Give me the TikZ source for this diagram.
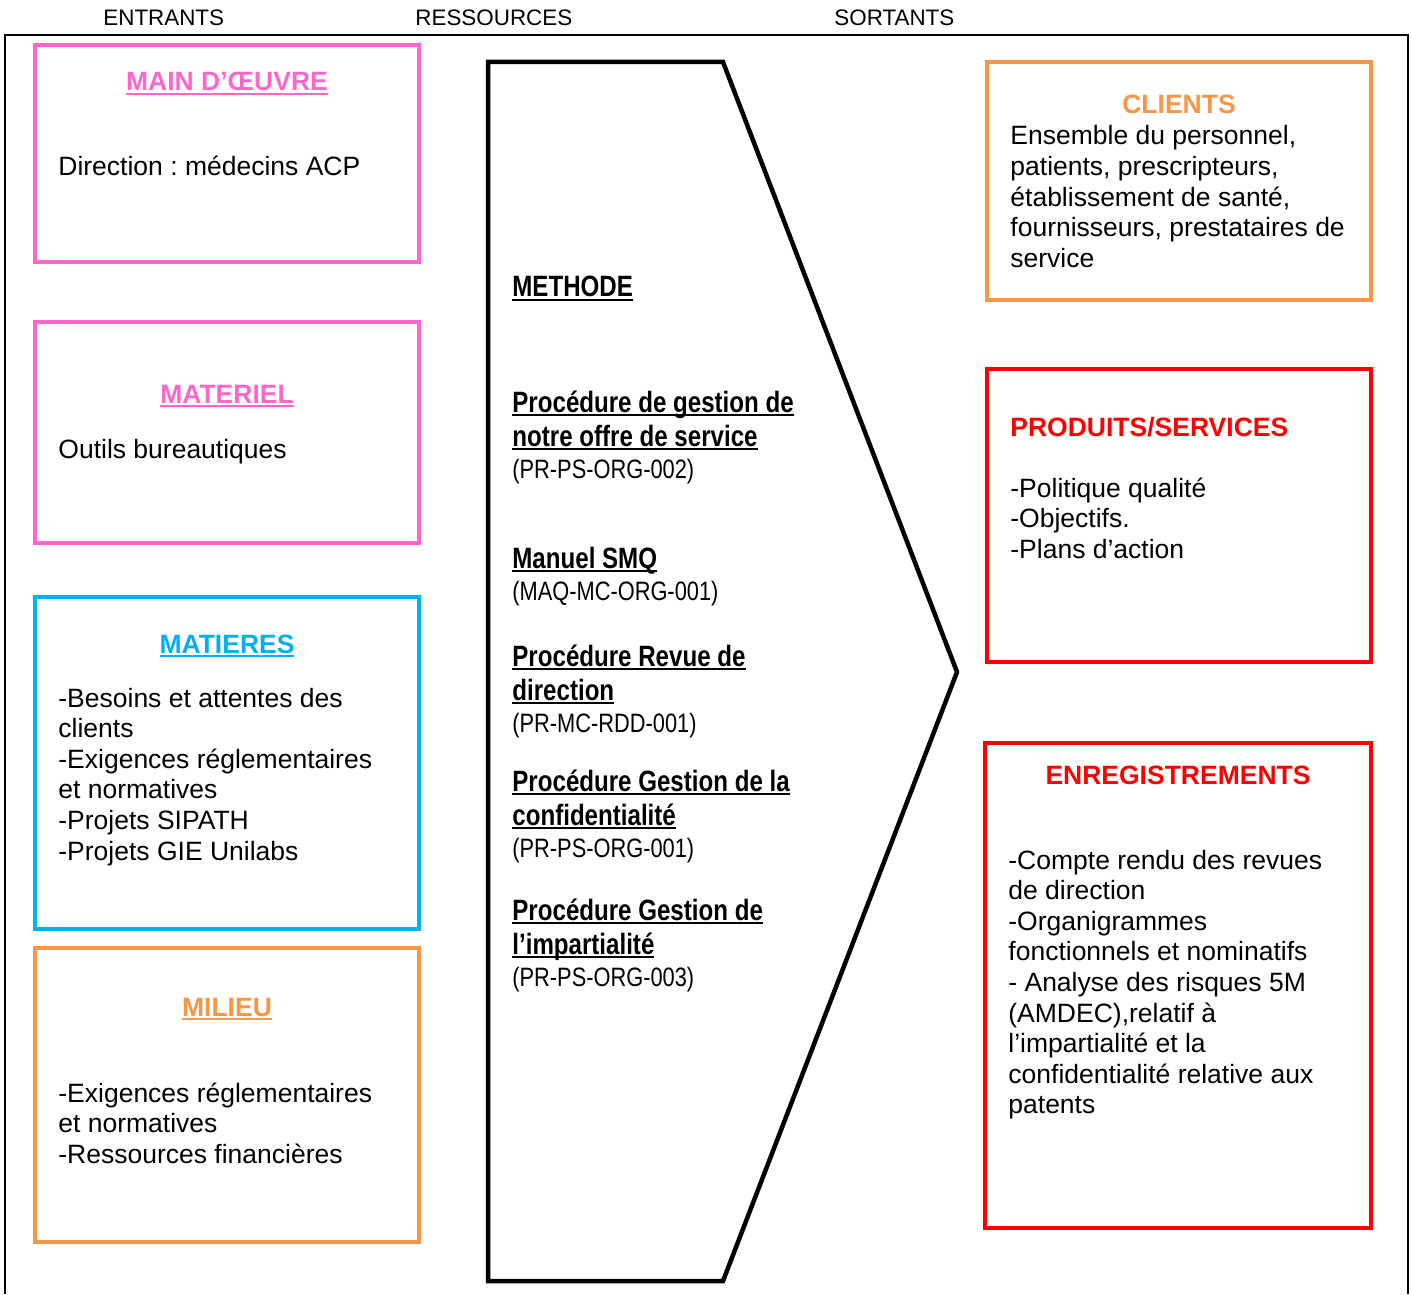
\documentclass[tikz,border=0pt]{standalone}
\usepackage{fontspec}
\setmainfont{Liberation Sans}
\newfontfamily\narrowfont[FakeStretch=0.82]{Liberation Sans}
\frenchspacing
\definecolor{pinkc}{HTML}{FF66CC}
\definecolor{cyanc}{HTML}{00B0F0}
\definecolor{orangec}{HTML}{F79646}
\definecolor{redc}{HTML}{FF0000}
\newsavebox\ulbox
\newcommand\ulx[1]{\leavevmode\sbox\ulbox{#1}\rlap{\rule[-2pt]{\wd\ulbox}{1pt}}\usebox\ulbox}
\newcommand\lines[1]{\parbox[t]{300pt}{\raggedright #1}}
\newcommand\codeln{\mdseries\fontsize{13.3}{17}\selectfont}
\tikzset{
  box/.style={draw=#1, line width=2pt},
  body/.style={anchor=base west, inner sep=0pt, font=\fontsize{13.25}{15.3}\selectfont},
  ttl/.style={anchor=base, inner sep=0pt, font=\fontsize{13.25}{15.3}\selectfont\bfseries, text=#1},
  ttlw/.style={anchor=base west, inner sep=0pt, font=\fontsize{13.25}{15.3}\selectfont\bfseries, text=#1},
  hdr/.style={anchor=base west, inner sep=0pt, font=\fontsize{11.2}{13}\selectfont},
  mid/.style={anchor=base west, inner sep=0pt, font=\narrowfont\fontsize{14.7}{17}\selectfont},
}
\begin{document}
\begin{tikzpicture}[x=0.5pt,y=-0.5pt]
\useasboundingbox[fill=white] (0,0) rectangle (1411,1294);
% outer frame
\draw[line width=0.75pt] (5,1294) -- (5,35) -- (1408,35) -- (1408,1294);
% headers
\node[hdr] (h1) at (103,26) {ENTRANTS};
\node[hdr] (h2) at (415,26) {RESSOURCES};
\node[hdr] (h3) at (834,26) {SORTANTS};
% left boxes
\draw[box=pinkc] (35,45) rectangle (419,262);
\draw[box=pinkc] (35,322) rectangle (419,543);
\draw[box=cyanc] (35,597) rectangle (419,929);
\draw[box=orangec] (35,948) rectangle (419,1242);
% right boxes
\draw[box=orangec] (987,62) rectangle (1371,300);
\draw[box=redc] (987,369) rectangle (1371,662);
\draw[box=redc] (985,743) rectangle (1371,1228);
% central arrow
\draw[line width=2.25pt, line join=miter] (488,62) -- (723,62) -- (957,672) -- (723,1281) -- (488,1281) -- cycle;
% left texts
\node[ttl=pinkc] (t1) at (227,91) {\ulx{MAIN D’ŒUVRE}};
\node[body] (b1) at (58,176) {Direction : médecins ACP};
\node[ttl=pinkc] (t2) at (227,403) {\ulx{MATERIEL}};
\node[body] (b2) at (58,458) {Outils bureautiques};
\node[ttl=cyanc] (t3) at (227,653) {\ulx{MATIERES}};
\node[body] (b3) at (58,707) {\lines{-Besoins et attentes des\\clients\\-Exigences réglementaires\\et normatives\\-Projets SIPATH\\-Projets GIE Unilabs}};
\node[ttl=orangec] (t4) at (227,1016) {\ulx{MILIEU}};
\node[body] (b4) at (58,1102) {\lines{-Exigences réglementaires\\et normatives\\-Ressources financières}};
% right texts
\node[ttl=orangec] (t5) at (1179,114) {CLIENTS};
\node[body] (b5) at (1010,145) {\lines{Ensemble du personnel,\\patients, prescripteurs,\\établissement de santé,\\fournisseurs, prestataires de\\service}};
\node[ttlw=redc] (t6) at (1010,436) {PRODUITS/SERVICES};
\node[body] (b6) at (1010,497) {\lines{-Politique qualité\\-Objectifs.\\-Plans d’action}};
\node[ttl=redc] (t7) at (1178,784) {ENREGISTREMENTS};
\node[body] (b7) at (1008,869) {\lines{-Compte rendu des revues\\de direction\\-Organigrammes\\fonctionnels et nominatifs\\- Analyse des risques 5M\\(AMDEC),relatif à\\l’impartialité et la\\confidentialité relative aux\\patents}};
% middle texts
\node[mid] (m0) at (512,297) {\bfseries\ulx{METHODE}};
\node[mid] (m1) at (512,412) {\lines{\bfseries\ulx{Procédure de gestion de}\\\ulx{notre offre de service}\\[-1pt]\codeln (PR-PS-ORG-002)}};
\node[mid] (m2) at (512,568) {\lines{\bfseries\ulx{Manuel SMQ}\\[-1pt]\codeln (MAQ-MC-ORG-001)}};
\node[mid] (m3) at (512,666) {\lines{\bfseries\ulx{Procédure Revue de}\\\ulx{direction}\\[-1pt]\codeln (PR-MC-RDD-001)}};
\node[mid] (m4) at (512,791) {\lines{\bfseries\ulx{Procédure Gestion de la}\\\ulx{confidentialité}\\[-1pt]\codeln (PR-PS-ORG-001)}};
\node[mid] (m5) at (512,920) {\lines{\bfseries\ulx{Procédure Gestion de}\\\ulx{l’impartialité}\\[-1pt]\codeln (PR-PS-ORG-003)}};
\end{tikzpicture}
\end{document}
